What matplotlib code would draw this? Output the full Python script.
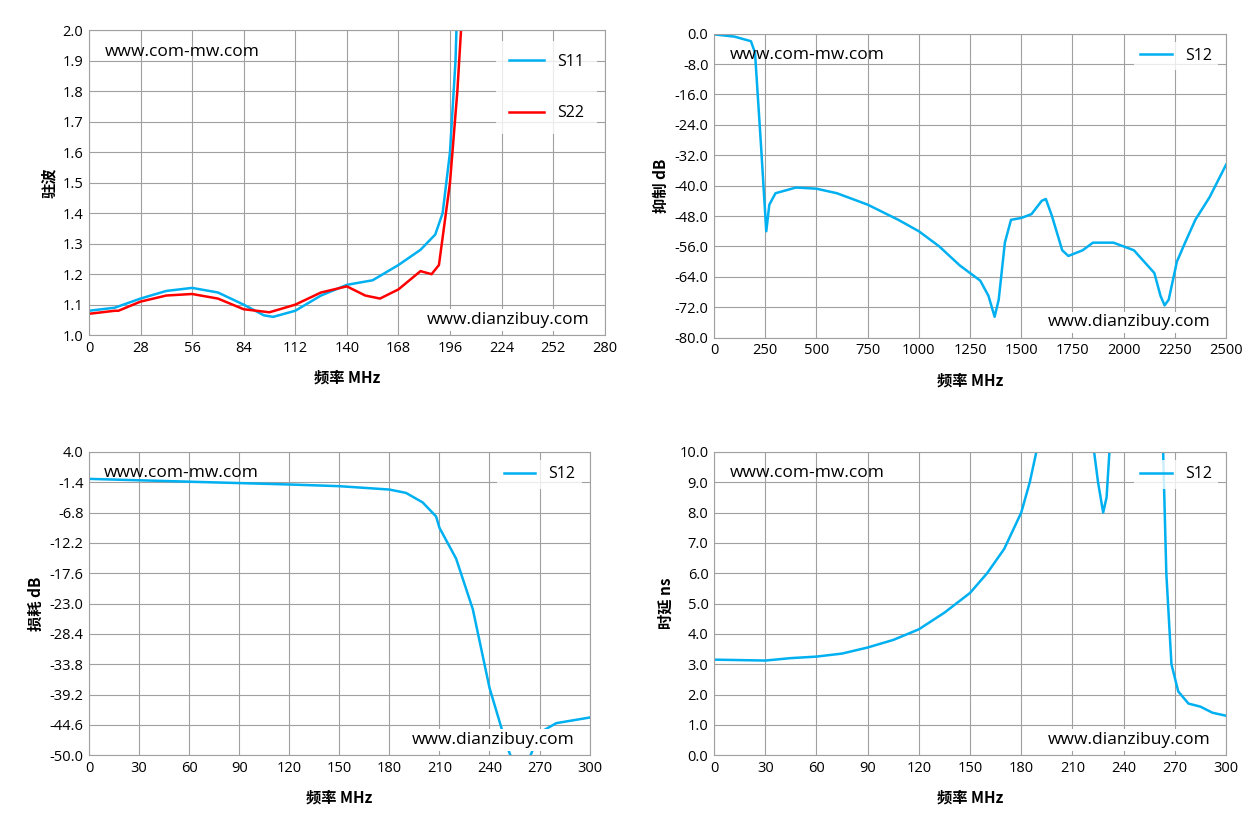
import numpy as np
import matplotlib
matplotlib.use("Agg")
import matplotlib.pyplot as plt

plt.rcParams['font.family'] = ['Open Sans', 'Noto Sans CJK SC', 'DejaVu Sans']
plt.rcParams['font.size'] = 10.5
CJK = ['Noto Sans CJK SC', 'DejaVu Sans']
BLUE = "#00B0F0"
RED = "#FF0000"
nan = np.nan

# ---- data ----
s11_x = [0, 14, 28, 42, 56, 70, 84, 95, 100, 112, 126, 140, 154, 168, 180, 188, 192, 196, 199, 200]
s11_y = [1.08, 1.09, 1.12, 1.145, 1.155, 1.14, 1.10, 1.065, 1.06, 1.08, 1.13, 1.165, 1.18, 1.23, 1.28, 1.33, 1.40, 1.6, 1.9, 2.1]
s22_x = [0, 14, 16, 28, 42, 56, 70, 84, 98, 112, 126, 140, 150, 158, 168, 180, 186, 190, 196, 200, 203]
s22_y = [1.07, 1.08, 1.08, 1.11, 1.13, 1.135, 1.12, 1.085, 1.075, 1.10, 1.14, 1.16, 1.13, 1.12, 1.15, 1.21, 1.20, 1.23, 1.5, 1.8, 2.1]

rej_x = [0, 100, 180, 200, 230, 255, 270, 300, 400, 500, 600, 750, 900, 1000, 1100, 1200, 1300,
         1340, 1370, 1390, 1420, 1450, 1500, 1550, 1600, 1620, 1650, 1700, 1730, 1800, 1850, 1950,
         2050, 2150, 2180, 2200, 2220, 2260, 2300, 2350, 2420, 2500]
rej_y = [-0.2, -0.8, -2, -5, -30, -52, -45, -42, -40.5, -40.8, -42, -45, -49, -52, -56, -61, -65,
         -69, -74.5, -70, -55, -49, -48.5, -47.5, -44, -43.5, -48, -57, -58.5, -57, -55, -55,
         -57, -63, -69, -71.5, -70, -60, -55, -49, -43, -34.5]

il_x = [0, 60, 120, 150, 180, 190, 200, 208, 210, 220, 230, 240, 250, 255, nan, 262, 270, 280, 300]
il_y = [-0.8, -1.3, -1.8, -2.1, -2.7, -3.3, -5, -7.5, -9.5, -15, -24, -38, -48, -52, nan, -52, -46, -44.3, -43.3]

gd_x = [0, 30, 45, 60, 75, 90, 105, 120, 135, 150, 160, 170, 180, 185, 190, nan,
        222, 225, 228, 230, 232, nan, 263, 265, 268, 272, 278, 285, 292, 300]
gd_y = [3.15, 3.12, 3.2, 3.25, 3.35, 3.55, 3.8, 4.15, 4.7, 5.35, 6.0, 6.8, 8.0, 9.0, 10.3, nan,
        10.3, 9, 8.0, 8.5, 10.3, nan, 10.3, 6, 3, 2.1, 1.7, 1.6, 1.4, 1.3]

fig = plt.figure(figsize=(12.58, 8.4), dpi=100)
axes = [fig.add_axes([0.0707, 0.601, 0.410, 0.363]),
        fig.add_axes([0.5676, 0.598, 0.407, 0.362]),
        fig.add_axes([0.0707, 0.101, 0.398, 0.361]),
        fig.add_axes([0.5676, 0.101, 0.407, 0.361])]

def style(ax, ylabel, xticks, yticks, fmt="%.1f"):
    ax.set_xlim(xticks[0], xticks[-1])
    ax.set_ylim(min(yticks), max(yticks))
    ax.set_xticks(xticks)
    ax.set_yticks(yticks)
    ax.set_yticklabels([fmt % (v if v != 0 else 0.0) for v in yticks])
    ax.grid(color="#A0A0A0", linewidth=0.8)
    ax.tick_params(length=0, pad=4)
    for s in ax.spines.values():
        s.set_color("#A0A0A0")
    ax.set_xlabel("频率 MHz", family=CJK, fontweight="bold", fontsize=11, labelpad=10)
    ax.set_ylabel(ylabel, family=CJK, fontweight="bold", fontsize=11)

def marks(ax, y1=0.93, y2=0.05):
    ax.text(0.03, y1, "www.com-mw.com", transform=ax.transAxes, fontsize=12.5, va="center")
    ax.text(0.97, y2, "www.dianzibuy.com", transform=ax.transAxes, fontsize=12.5, ha="right",
            va="center", bbox=dict(facecolor="white", edgecolor="none", pad=2))

ax = axes[0]
ax.plot(s11_x, s11_y, color=BLUE, lw=1.8, label="S11")
ax.plot(s22_x, s22_y, color=RED, lw=1.8, label="S22")
style(ax, "驻波", list(range(0, 281, 28)), [round(1 + 0.1 * i, 1) for i in range(11)])
marks(ax)
ax.legend(loc="upper right", bbox_to_anchor=(1.0, 0.99), frameon=True, edgecolor="none",
          fancybox=False, labelspacing=2.2, handlelength=2.2, fontsize=11.5, borderpad=0.8)

ax = axes[1]
ax.plot(rej_x, rej_y, color=BLUE, lw=1.8, label="S12")
style(ax, "抑制 dB", list(range(0, 2501, 250)), [0.0] + [-8.0 * i for i in range(1, 11)])
marks(ax)
ax.legend(loc="upper right", frameon=True, edgecolor="none", fancybox=False, fontsize=11.5)

ax = axes[2]
ax.plot(il_x, il_y, color=BLUE, lw=1.8, label="S12")
style(ax, "损耗 dB", list(range(0, 301, 30)), [round(4 - 5.4 * i, 1) for i in range(11)][::-1])
marks(ax)
ax.legend(loc="upper right", frameon=True, edgecolor="none", fancybox=False, fontsize=11.5)

ax = axes[3]
ax.plot(gd_x, gd_y, color=BLUE, lw=1.8, label="S12")
style(ax, "时延 ns", list(range(0, 301, 30)), [float(i) for i in range(11)])
marks(ax)
ax.legend(loc="upper right", frameon=True, edgecolor="none", fancybox=False, fontsize=11.5)

fig.savefig("out.png", dpi=100, facecolor="white")
